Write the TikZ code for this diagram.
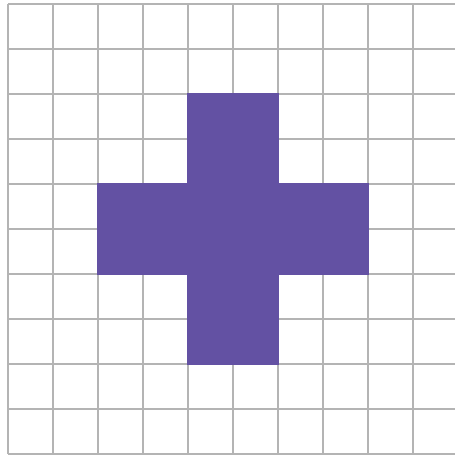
\documentclass[tikz,border=0pt]{standalone}
\usepackage{tikz}
\definecolor{crosspurple}{RGB}{99,81,163}
\definecolor{gridgray}{RGB}{180,180,180}
\tikzset{
  gridline/.style={draw=gridgray, line width=1.5pt},
  crossfill/.style={fill=crosspurple}
}
\begin{document}
\begin{tikzpicture}
  \useasboundingbox (-0.178,-0.067) rectangle (9.933,10.089);
  \clip (-0.178,-0.067) rectangle (9.933,10.089);
  \fill[white] (-0.178,-0.067) rectangle (9.933,10.089);
  \draw[gridline] (0,0) grid (10,10);
  \fill[crossfill] (3.98,8.02) -- (6.02,8.02) -- (6.02,6.02) -- (8.02,6.02)
    -- (8.02,3.98) -- (6.02,3.98) -- (6.02,1.98) -- (3.98,1.98) -- (3.98,3.98)
    -- (1.98,3.98) -- (1.98,6.02) -- (3.98,6.02) -- cycle;
\end{tikzpicture}
\end{document}
